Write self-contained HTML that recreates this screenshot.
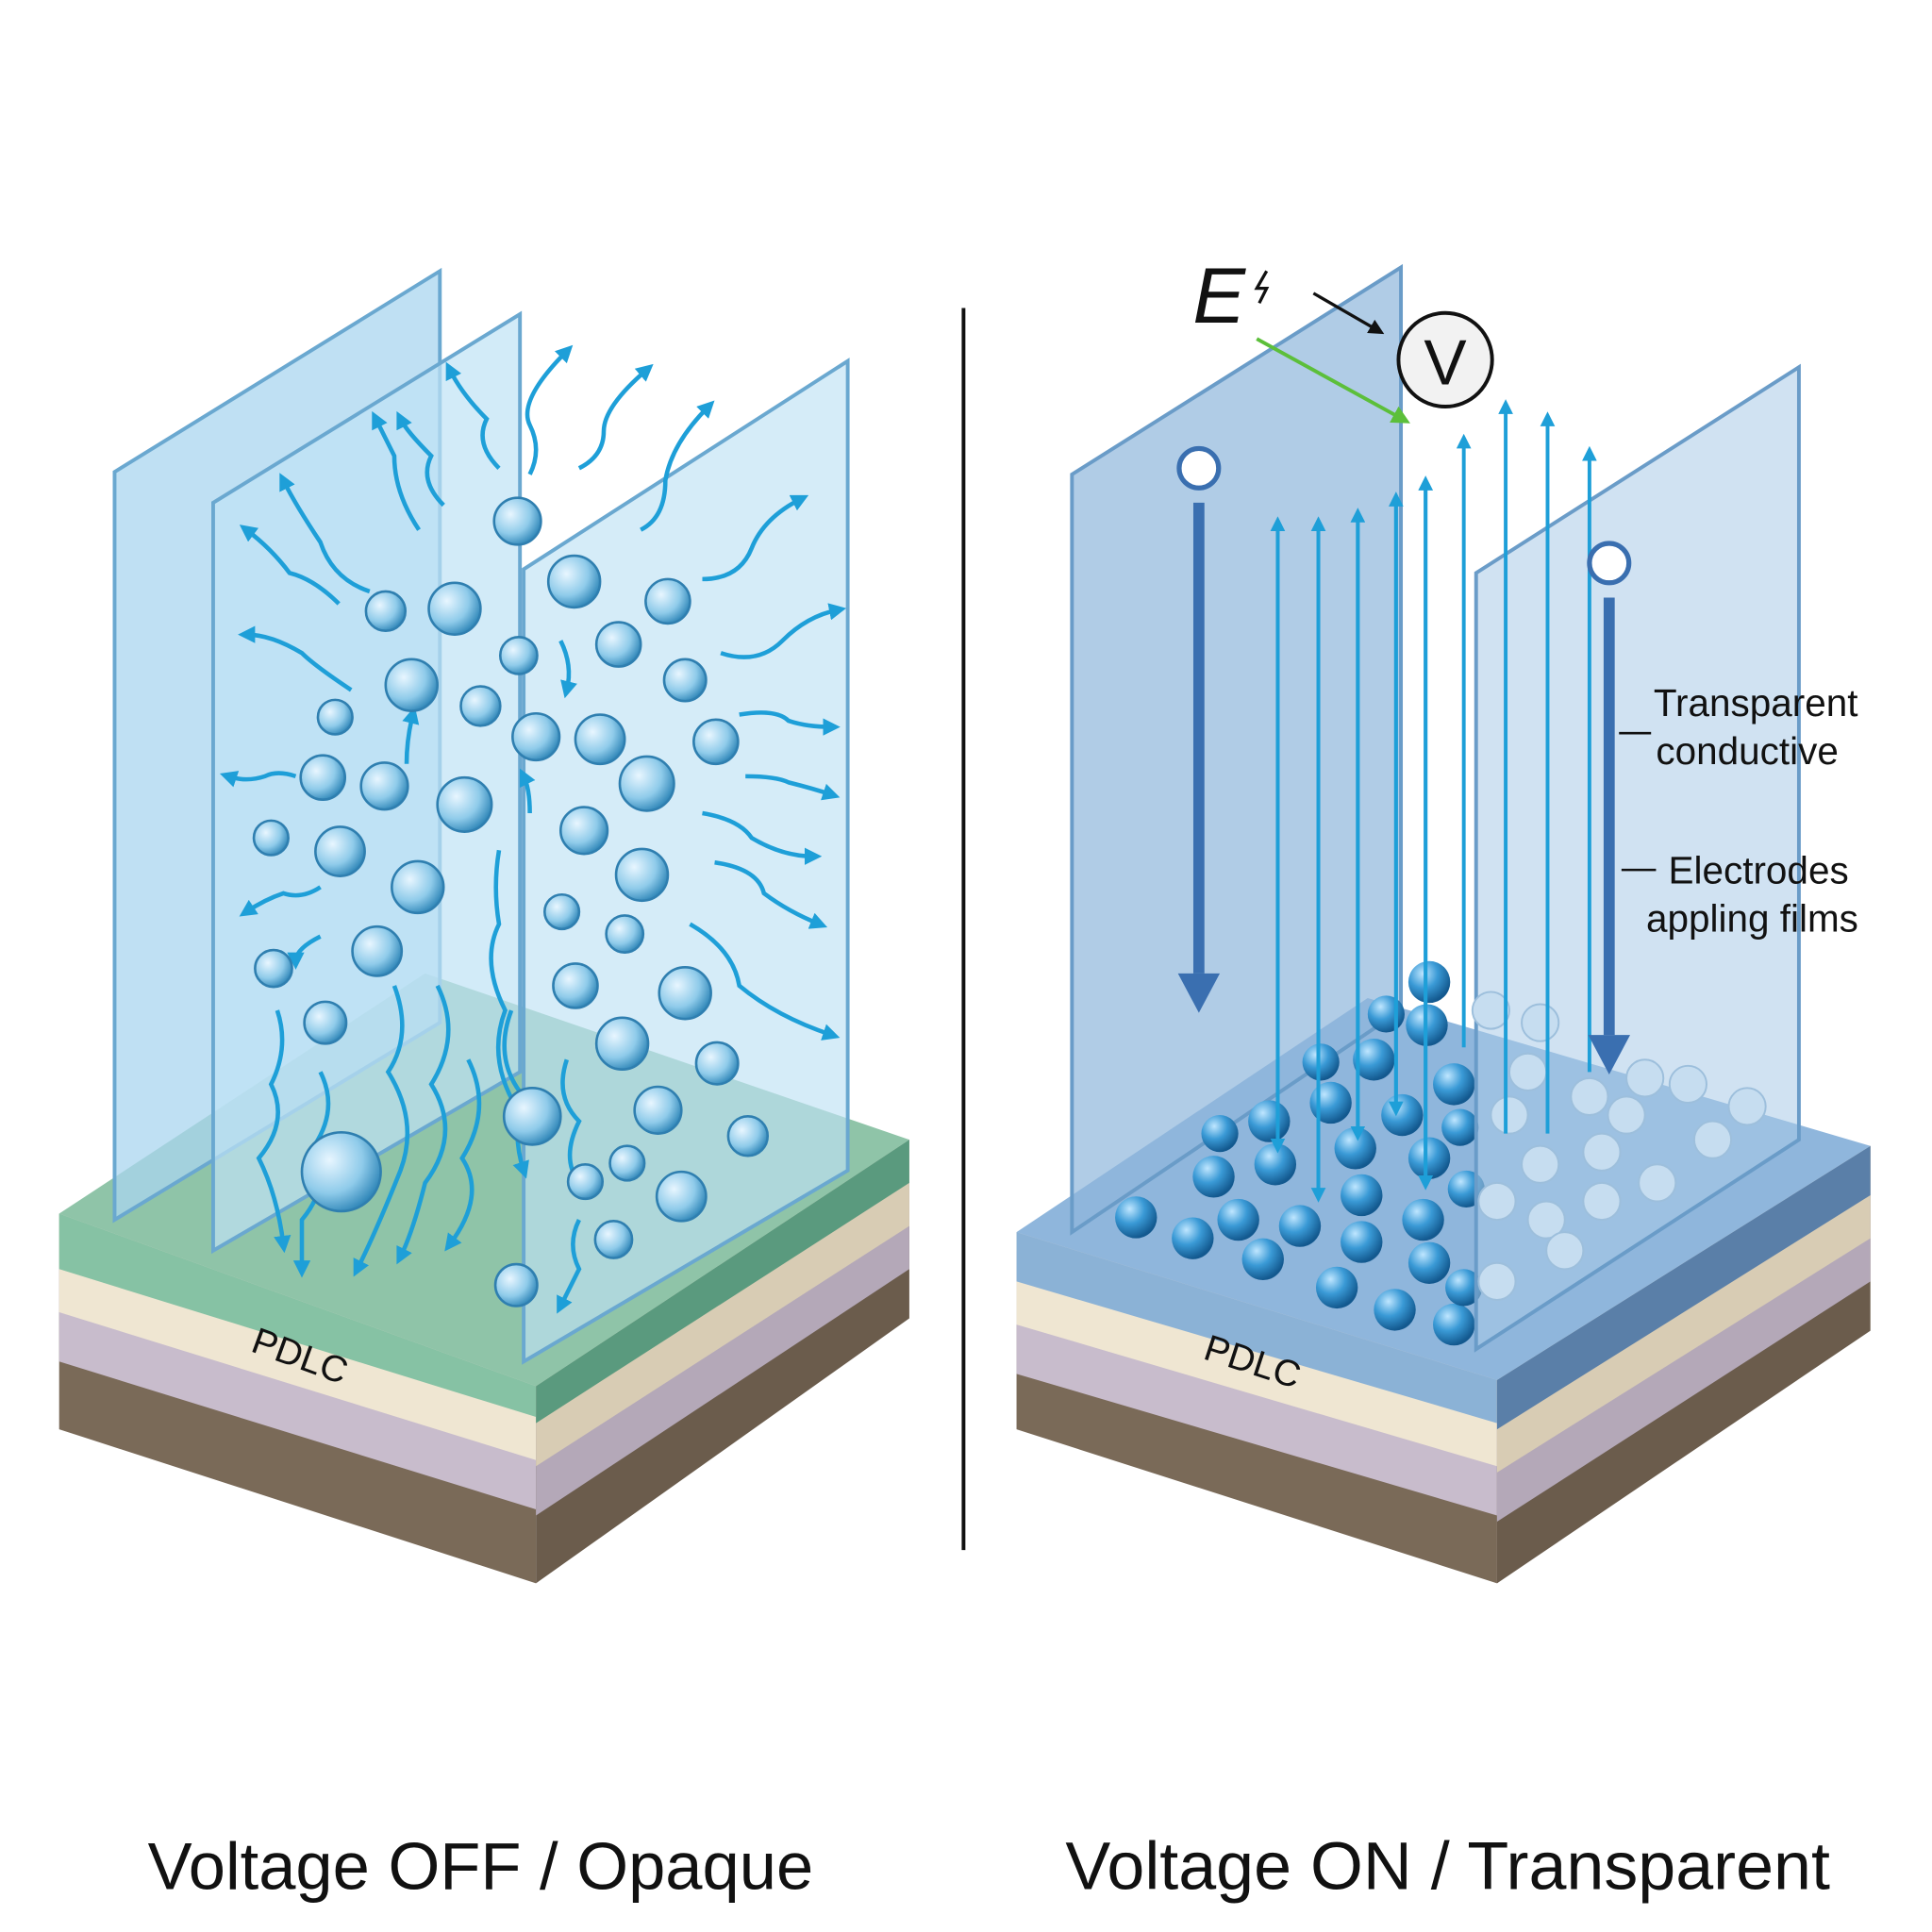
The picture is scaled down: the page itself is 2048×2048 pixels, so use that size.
<!DOCTYPE html>
<html><head><meta charset="utf-8"><style>
html,body{margin:0;padding:0;background:#fff}
svg{display:block}
text{font-family:"Liberation Sans",sans-serif}
</style></head><body>
<svg width="2048" height="2048" viewBox="0 0 1568 1568" xmlns="http://www.w3.org/2000/svg">
<defs>
<marker id="ah" viewBox="0 0 8 8" markerWidth="4" markerHeight="4" refX="4" refY="4" orient="auto" markerUnits="strokeWidth"><path d="M0,0 L8,4 L0,8 z" fill="#1e9fd8"/></marker>
<marker id="ahk" viewBox="0 0 8 8" markerWidth="5" markerHeight="5" refX="4" refY="4" orient="auto" markerUnits="strokeWidth"><path d="M0,0 L8,4 L0,8 z" fill="#111"/></marker>
<marker id="ahg" viewBox="0 0 8 8" markerWidth="5" markerHeight="5" refX="4" refY="4" orient="auto" markerUnits="strokeWidth"><path d="M0,0 L8,4 L0,8 z" fill="#5cbf3a"/></marker>
<radialGradient id="bub" cx="0.35" cy="0.35" r="0.7"><stop offset="0" stop-color="#e8f6ff"/><stop offset="0.6" stop-color="#8fcbea"/><stop offset="1" stop-color="#2f86b8"/></radialGradient>
<radialGradient id="bub2" cx="0.35" cy="0.3" r="0.7"><stop offset="0" stop-color="#bfe6ff"/><stop offset="0.5" stop-color="#3a9ad6"/><stop offset="1" stop-color="#13598f"/></radialGradient>
</defs>

<!-- LEFT BLOCK -->
<polygon points="48,985 435,1125 435,1285 48,1160" fill="#7a6a58"/>
<polygon points="48,985 435,1125 435,1225 48,1105" fill="#c8bccc"/>
<polygon points="48,985 435,1125 435,1185 48,1065" fill="#efe6d2"/>
<polygon points="48,985 435,1125 435,1150 48,1030" fill="#86c2a4"/>
<polygon points="435,1125 738,925 738,1070 435,1285" fill="#6b5c4c"/>
<polygon points="435,1125 738,925 738,1030 435,1230" fill="#b4a8b8"/>
<polygon points="435,1125 738,925 738,995 435,1190" fill="#d8ccb4"/>
<polygon points="435,1125 738,925 738,960 435,1155" fill="#5a9a7e"/>
<polygon points="48,985 345,790 738,925 435,1125" fill="#8fc4a8"/>
<text x="200" y="1110" font-size="30" transform="rotate(20 240 1110)" fill="#111">PDLC</text>

<!-- left panels -->
<polygon points="93,383 357,220 357,830 93,990" fill="#a9d6ef" fill-opacity="0.75" stroke="#6aa8d0" stroke-width="3"/>
<polygon points="173,408 422,255 422,870 173,1015" fill="#bfe2f5" fill-opacity="0.7" stroke="#6aa8d0" stroke-width="3"/>
<polygon points="425,462 688,293 688,950 425,1105" fill="#bfe2f5" fill-opacity="0.65" stroke="#6aa8d0" stroke-width="3"/>

<!-- wavy arrows -->
<g fill="none" stroke="#1e9fd8" stroke-width="3.5" marker-end="url(#ah)">
<path d="M430,385 q10,-20 0,-40 q-10,-20 30,-60"/>
<path d="M470,380 q20,-10 20,-30 q0,-20 35,-50"/>
<path d="M520,430 q20,-10 20,-40 q5,-30 35,-60"/>
<path d="M570,470 q30,0 40,-25 q10,-25 40,-40"/>
<path d="M585,530 q30,10 50,-10 q20,-20 45,-25"/>
<path d="M600,580 q30,-5 40,5 q15,5 35,5"/>
<path d="M605,630 q25,0 35,5 q20,5 35,10"/>
<path d="M570,660 q30,5 40,20 q25,15 50,15"/>
<path d="M580,700 q35,5 40,25 q20,15 45,25"/>
<path d="M560,750 q35,20 40,50 q30,25 75,40"/>
<path d="M405,380 q-20,-20 -10,-40 q-20,-20 -30,-40"/>
<path d="M360,410 q-20,-20 -10,-40 q-20,-20 -25,-30"/>
<path d="M340,430 q-20,-30 -20,-60 q-10,-20 -15,-30"/>
<path d="M300,480 q-30,-10 -40,-40 q-20,-30 -30,-50"/>
<path d="M275,490 q-20,-20 -40,-25 q-15,-20 -35,-35"/>
<path d="M285,560 q-30,-20 -40,-30 q-25,-15 -45,-15"/>
<path d="M240,630 q-15,-5 -25,0 q-15,5 -30,0"/>
<path d="M260,720 q-15,10 -30,5 q-15,5 -30,15"/>
<path d="M260,760 q-20,10 -20,20"/>
<path d="M225,820 q10,30 -5,60 q15,30 -10,60 q15,30 20,70"/>
<path d="M260,870 q15,30 -5,60 q15,30 -10,60 q0,30 0,40"/>
<path d="M320,800 q15,40 -5,70 q25,40 10,80 q-20,50 -35,80"/>
<path d="M355,800 q20,40 -5,80 q25,40 -5,80 q-10,40 -20,60"/>
<path d="M380,860 q20,40 -5,80 q20,30 -10,70"/>
<path d="M405,690 q-5,30 0,60 q-15,30 5,70 q-15,40 10,80"/>
<path d="M415,820 q-15,40 10,70 q-10,30 0,60"/>
<path d="M460,860 q-10,30 10,50 q-15,30 0,50"/>
<path d="M470,990 q-10,20 0,40 q-10,20 -15,30"/>
<path d="M455,520 q10,20 5,40"/>
<path d="M330,620 q0,-20 5,-40"/>
<path d="M430,660 q0,-20 -5,-30"/>
</g>

<!-- bubbles left -->
<g fill="url(#bub)" stroke="#2f7fb0" stroke-width="2">
<circle cx="420" cy="423" r="19"/><circle cx="313" cy="496" r="16"/><circle cx="369" cy="494" r="21"/>
<circle cx="466" cy="472" r="21"/><circle cx="542" cy="488" r="18"/><circle cx="421" cy="532" r="15"/>
<circle cx="502" cy="523" r="18"/><circle cx="334" cy="556" r="21"/><circle cx="556" cy="552" r="17"/>
<circle cx="272" cy="582" r="14"/><circle cx="390" cy="573" r="16"/><circle cx="435" cy="598" r="19"/>
<circle cx="487" cy="600" r="20"/><circle cx="581" cy="602" r="18"/><circle cx="262" cy="631" r="18"/>
<circle cx="312" cy="638" r="19"/><circle cx="377" cy="653" r="22"/><circle cx="525" cy="636" r="22"/>
<circle cx="220" cy="680" r="14"/><circle cx="276" cy="691" r="20"/><circle cx="474" cy="674" r="19"/>
<circle cx="339" cy="720" r="21"/><circle cx="521" cy="710" r="21"/><circle cx="456" cy="740" r="14"/>
<circle cx="222" cy="786" r="15"/><circle cx="306" cy="772" r="20"/><circle cx="507" cy="758" r="15"/>
<circle cx="467" cy="800" r="18"/><circle cx="556" cy="806" r="21"/><circle cx="264" cy="830" r="17"/>
<circle cx="505" cy="847" r="21"/><circle cx="582" cy="863" r="17"/><circle cx="534" cy="901" r="19"/>
<circle cx="432" cy="906" r="23"/><circle cx="607" cy="922" r="16"/><circle cx="277" cy="951" r="32"/>
<circle cx="509" cy="944" r="14"/><circle cx="475" cy="959" r="14"/><circle cx="553" cy="971" r="20"/>
<circle cx="498" cy="1006" r="15"/><circle cx="419" cy="1043" r="17"/>
</g>

<!-- divider -->
<line x1="782" y1="250" x2="782" y2="1258" stroke="#111" stroke-width="3"/>

<!-- RIGHT BLOCK -->
<polygon points="825,1000 1215,1120 1215,1285 825,1160" fill="#7a6a58"/>
<polygon points="825,1000 1215,1120 1215,1230 825,1115" fill="#c8bccc"/>
<polygon points="825,1000 1215,1120 1215,1190 825,1075" fill="#efe6d2"/>
<polygon points="825,1000 1215,1120 1215,1155 825,1040" fill="#8bb2d6"/>
<polygon points="1215,1120 1518,930 1518,1080 1215,1285" fill="#6b5c4c"/>
<polygon points="1215,1120 1518,930 1518,1040 1215,1235" fill="#b4a8b8"/>
<polygon points="1215,1120 1518,930 1518,1005 1215,1195" fill="#d8ccb4"/>
<polygon points="1215,1120 1518,930 1518,970 1215,1160" fill="#5a7fa8"/>
<polygon points="825,1000 1110,810 1518,930 1215,1120" fill="#8fb6dc"/>
<text x="975" y="1115" font-size="30" transform="rotate(18 1015 1110)" fill="#111">PDLC</text>

<polygon points="870,385 1137,217 1137,820 870,1000" fill="#8fb6dc" fill-opacity="0.7" stroke="#6a9cc8" stroke-width="3"/>

<!-- droplets right -->
<g fill="url(#bub2)">
<circle cx="922" cy="988" r="17"/><circle cx="968" cy="1005" r="17"/><circle cx="1005" cy="990" r="17"/>
<circle cx="985" cy="955" r="17"/><circle cx="990" cy="920" r="15"/><circle cx="1030" cy="910" r="17"/>
<circle cx="1035" cy="945" r="17"/><circle cx="1055" cy="995" r="17"/><circle cx="1025" cy="1022" r="17"/>
<circle cx="1085" cy="1045" r="17"/><circle cx="1132" cy="1063" r="17"/><circle cx="1105" cy="1008" r="17"/>
<circle cx="1105" cy="970" r="17"/><circle cx="1100" cy="932" r="17"/><circle cx="1080" cy="895" r="17"/>
<circle cx="1072" cy="862" r="15"/><circle cx="1115" cy="860" r="17"/><circle cx="1125" cy="823" r="15"/>
<circle cx="1160" cy="797" r="17"/><circle cx="1158" cy="832" r="17"/><circle cx="1180" cy="880" r="17"/>
<circle cx="1138" cy="905" r="17"/><circle cx="1160" cy="940" r="17"/><circle cx="1155" cy="990" r="17"/>
<circle cx="1160" cy="1025" r="17"/><circle cx="1180" cy="1075" r="17"/><circle cx="1188" cy="1045" r="15"/>
<circle cx="1190" cy="965" r="15"/><circle cx="1185" cy="915" r="15"/>
</g>

<polygon points="1198,465 1460,298 1460,925 1198,1095" fill="#aacbe8" fill-opacity="0.55" stroke="#6a9cc8" stroke-width="3"/>
<g fill="#c6ddf0" stroke="#9dbfdc" stroke-width="1.5">
<circle cx="1210" cy="820" r="15"/><circle cx="1250" cy="830" r="15"/><circle cx="1240" cy="870" r="15"/>
<circle cx="1290" cy="890" r="15"/><circle cx="1335" cy="875" r="15"/><circle cx="1370" cy="880" r="15"/>
<circle cx="1418" cy="898" r="15"/><circle cx="1390" cy="925" r="15"/><circle cx="1345" cy="960" r="15"/>
<circle cx="1300" cy="935" r="15"/><circle cx="1250" cy="945" r="15"/><circle cx="1215" cy="975" r="15"/>
<circle cx="1255" cy="990" r="15"/><circle cx="1300" cy="975" r="15"/><circle cx="1270" cy="1015" r="15"/>
<circle cx="1215" cy="1040" r="15"/><circle cx="1320" cy="905" r="15"/><circle cx="1225" cy="905" r="15"/>
</g>

<!-- vertical field lines -->
<g stroke="#1e9fd8" stroke-width="3" fill="none">
<line x1="1037" y1="930" x2="1037" y2="425" marker-end="url(#ah)"/><line x1="1037" y1="425" x2="1037" y2="930" marker-end="url(#ah)"/>
<line x1="1070" y1="970" x2="1070" y2="425" marker-end="url(#ah)"/><line x1="1070" y1="425" x2="1070" y2="970" marker-end="url(#ah)"/>
<line x1="1102" y1="920" x2="1102" y2="418" marker-end="url(#ah)"/><line x1="1102" y1="418" x2="1102" y2="920" marker-end="url(#ah)"/>
<line x1="1133" y1="900" x2="1133" y2="405" marker-end="url(#ah)"/><line x1="1133" y1="405" x2="1133" y2="900" marker-end="url(#ah)"/>
<line x1="1157" y1="960" x2="1157" y2="392" marker-end="url(#ah)"/><line x1="1157" y1="392" x2="1157" y2="960" marker-end="url(#ah)"/>
<line x1="1188" y1="850" x2="1188" y2="358" marker-end="url(#ah)"/>
<line x1="1222" y1="920" x2="1222" y2="330" marker-end="url(#ah)"/>
<line x1="1256" y1="920" x2="1256" y2="340" marker-end="url(#ah)"/>
<line x1="1290" y1="870" x2="1290" y2="368" marker-end="url(#ah)"/>
</g>

<!-- dark electrode arrows -->
<circle cx="973" cy="380" r="16" fill="#fff" stroke="#3a6fb0" stroke-width="4"/>
<line x1="973" y1="408" x2="973" y2="790" stroke="#3a6fb0" stroke-width="9"/>
<polygon points="956,790 990,790 973,822" fill="#3a6fb0"/>
<circle cx="1306" cy="457" r="16" fill="#fff" stroke="#3a6fb0" stroke-width="4"/>
<line x1="1306" y1="485" x2="1306" y2="840" stroke="#3a6fb0" stroke-width="9"/>
<polygon points="1289,840 1323,840 1306,872" fill="#3a6fb0"/>

<!-- E and V -->
<text x="968" y="262" font-size="64" font-style="italic" fill="#111">E</text>
<path d="M1028,220 l-8,14 h8 l-6,12" stroke="#111" stroke-width="2.5" fill="none"/>
<line x1="1066" y1="238" x2="1118" y2="268" stroke="#111" stroke-width="2.5" marker-end="url(#ahk)"/>
<line x1="1020" y1="275" x2="1138" y2="340" stroke="#5cbf3a" stroke-width="3" marker-end="url(#ahg)"/>
<circle cx="1173" cy="292" r="38" fill="#f2f2f2" stroke="#111" stroke-width="3"/>
<text x="1173" y="312" font-size="52" text-anchor="middle" fill="#111">V</text>

<!-- labels -->
<g font-size="31" fill="#111">
<text x="1342" y="581">Transparent</text>
<text x="1344" y="620">conductive</text>
<text x="1354" y="717">Electrodes</text>
<text x="1336" y="756">appling films</text>
</g>
<line x1="1314" y1="595" x2="1340" y2="595" stroke="#111" stroke-width="2"/>
<line x1="1316" y1="706" x2="1344" y2="706" stroke="#111" stroke-width="2"/>

<!-- titles -->
<text x="390" y="1533" font-size="54" text-anchor="middle" fill="#111">Voltage OFF / Opaque</text>
<text x="1175" y="1533" font-size="55" text-anchor="middle" fill="#111">Voltage ON / Transparent</text>
</svg>
</body></html>
